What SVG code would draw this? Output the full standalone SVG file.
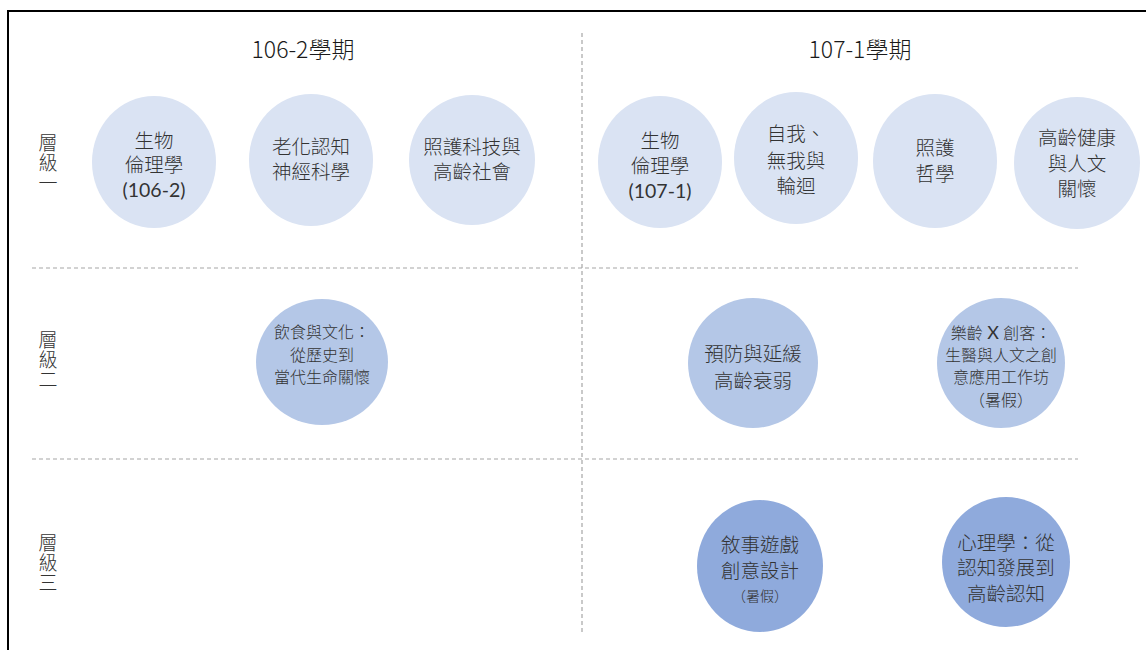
<svg xmlns="http://www.w3.org/2000/svg" width="1146" height="650" viewBox="0 0 1146 650">
<style>
.t{font-family:"Lato","Liberation Sans","Noto Sans CJK TC","Noto Sans CJK SC",sans-serif;font-weight:300;fill:#333333;text-anchor:middle;}
.h{font-family:"Noto Sans CJK TC","Noto Sans CJK SC",sans-serif;font-size:23px;fill:#1a1a1a;}
.n{font-size:19.5px;}
.s{font-size:16px;}
.r{font-weight:400;}
.lv{font-family:"Noto Sans CJK TC",sans-serif;font-size:19px;fill:#333333;writing-mode:vertical-rl;text-anchor:start;letter-spacing:1px;}
.c1{fill:#dae3f3;}
.c2{fill:#b4c7e7;}
.c3{fill:#8faadc;}
.dash{stroke:#a6a6a6;stroke-width:1.2;stroke-dasharray:4 3;fill:none;}
</style>
<rect x="0" y="0" width="1146" height="650" fill="#ffffff"/>
<path d="M8 660 V11 H1160" fill="none" stroke="#000" stroke-width="2"/>
<g id="connectors">
<line class="dash" x1="582" y1="33" x2="582" y2="632"/>
<line class="dash" x1="32" y1="268" x2="1078" y2="268"/>
<line class="dash" x1="32" y1="459" x2="1078" y2="459"/>
</g>
<g id="headers">
<text class="t h" x="303" y="58">106-2學期</text>
<text class="t h" x="860" y="58">107-1學期</text>
</g>
<g id="level1"><text class="t lv" x="48" y="133">層級一</text></g>
<g id="level2"><text class="t lv" x="48" y="330">層級二</text></g>
<g id="level3"><text class="t lv" x="48" y="533">層級三</text></g>
<g id="n1"><ellipse class="c1" cx="154" cy="162" rx="62" ry="66"/>
<text class="t n" x="154" y="148"><tspan x="154">生物</tspan><tspan x="154" dy="24">倫理學</tspan><tspan class="r" x="154" dy="25">(106-2)</tspan></text></g>
<g id="n2"><ellipse class="c1" cx="311" cy="160" rx="62" ry="66"/>
<text class="t n" x="311" y="154"><tspan x="311">老化認知</tspan><tspan x="311" dy="25">神經科學</tspan></text></g>
<g id="n3"><ellipse class="c1" cx="472" cy="160" rx="63" ry="65"/>
<text class="t n" x="472" y="154"><tspan x="472">照護科技與</tspan><tspan x="472" dy="25">高齡社會</tspan></text></g>
<g id="n4"><ellipse class="c1" cx="660" cy="162" rx="62" ry="66"/>
<text class="t n" x="660" y="148"><tspan x="660">生物</tspan><tspan x="660" dy="25">倫理學</tspan><tspan class="r" x="660" dy="25">(107-1)</tspan></text></g>
<g id="n5"><ellipse class="c1" cx="796" cy="158" rx="62" ry="66"/>
<text class="t n" x="796" y="141"><tspan x="796">自我、</tspan><tspan x="796" dy="27">無我與</tspan><tspan x="796" dy="25">輪迴</tspan></text></g>
<g id="n6"><ellipse class="c1" cx="935" cy="161" rx="62" ry="67"/>
<text class="t n" x="935" y="155"><tspan x="935">照護</tspan><tspan x="935" dy="26">哲學</tspan></text></g>
<g id="n7"><ellipse class="c1" cx="1077" cy="163" rx="63" ry="66"/>
<text class="t n" x="1077" y="145"><tspan x="1077">高齡健康</tspan><tspan x="1077" dy="26">與人文</tspan><tspan x="1077" dy="25">關懷</tspan></text></g>
<g id="n8"><ellipse class="c2" cx="322" cy="362" rx="66" ry="63"/>
<text class="t s" x="322" y="338"><tspan x="322">飲食與文化：</tspan><tspan x="322" dy="23">從歷史到</tspan><tspan x="322" dy="22">當代生命關懷</tspan></text></g>
<g id="n9"><ellipse class="c2" cx="753" cy="363" rx="65" ry="65"/>
<text class="t n" x="753" y="361"><tspan x="753">預防與延緩</tspan><tspan x="753" dy="27">高齡衰弱</tspan></text></g>
<g id="n10"><ellipse class="c2" cx="1001" cy="363" rx="64" ry="65"/>
<text class="t s" x="1001" y="339"><tspan x="1001">樂齡 <tspan class="r" style="font-size:18px">X</tspan> 創客：</tspan><tspan x="1001" dy="22">生醫與人文之創</tspan><tspan x="1001" dy="22">意應用工作坊</tspan><tspan x="1001" dy="23">（暑假）</tspan></text></g>
<g id="n11"><ellipse class="c3" cx="760" cy="566" rx="63" ry="66"/>
<text class="t n" x="760" y="552"><tspan x="760">敘事遊戲</tspan><tspan x="760" dy="26">創意設計</tspan><tspan x="760" dy="23" style="font-size:14px">（暑假）</tspan></text></g>
<g id="n12"><ellipse class="c3" cx="1006" cy="562" rx="64" ry="65"/>
<text class="t n" x="1006" y="550"><tspan x="1006">心理學：從</tspan><tspan x="1006" dy="25">認知發展到</tspan><tspan x="1006" dy="26">高齡認知</tspan></text></g>
</svg>
